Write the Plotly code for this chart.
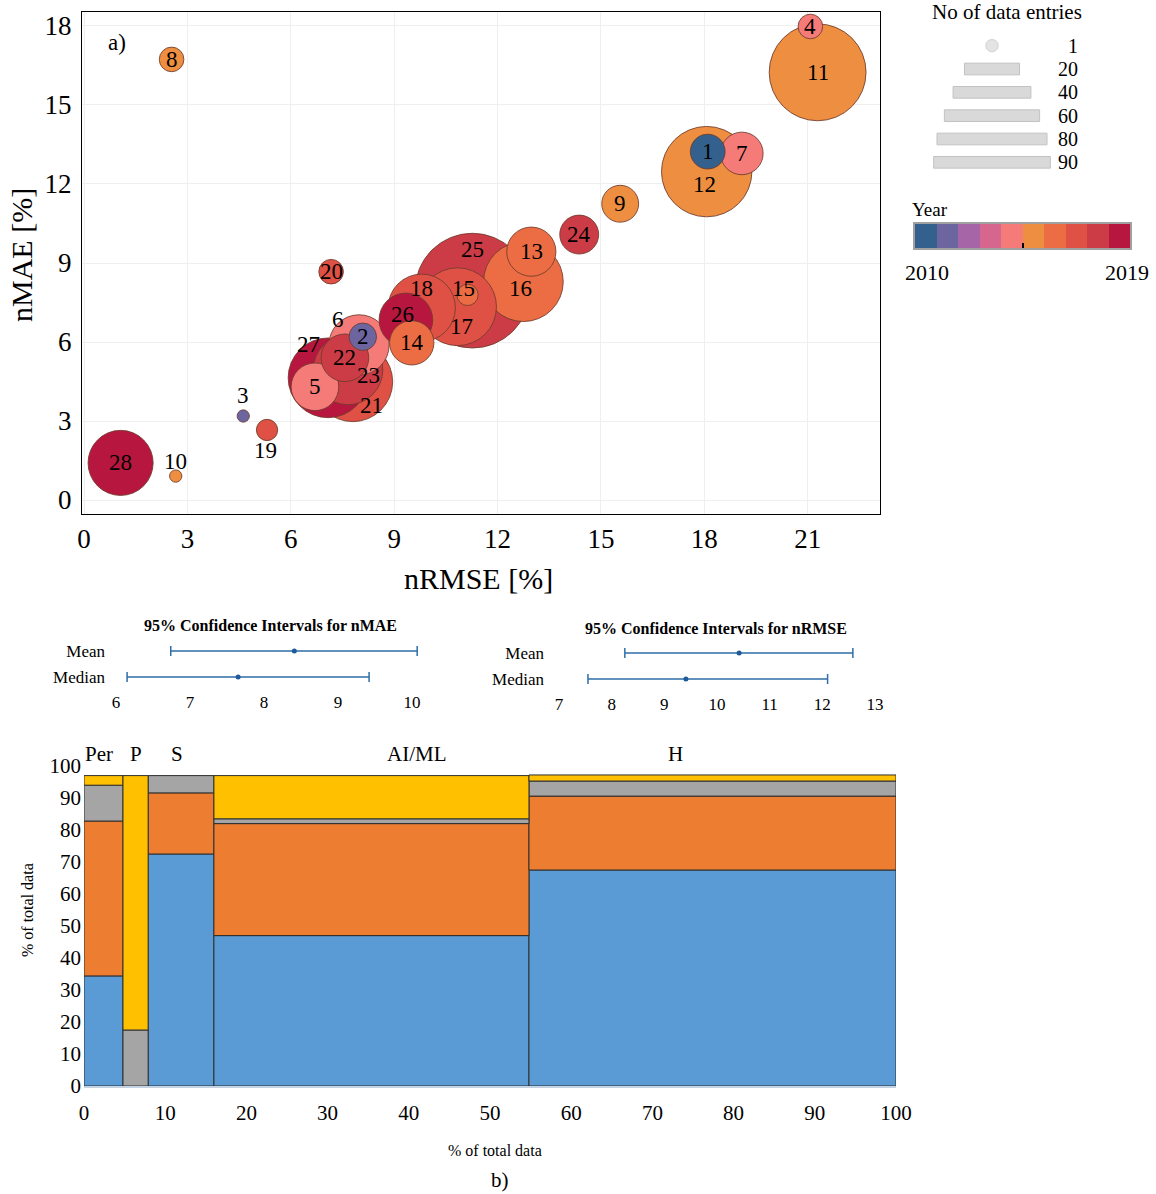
import numpy as np
import plotly.graph_objects as go

FONT = "Liberation Serif, Times New Roman, serif"
W, H = 1156, 1194

# ---------------- panel a) data ----------------
study = list(range(1, 29))
nrmse = [18.10, 8.09, 4.62, 21.08, 6.70, 7.98, 19.09, 2.54, 15.56, 2.66, 21.29, 18.07, 12.98, 9.51,
         11.13, 12.75, 10.84, 9.80, 5.31, 7.17, 7.80, 7.57, 7.66, 14.37, 11.27, 9.34, 7.08, 1.06]
nmae = [13.23, 6.20, 3.19, 17.98, 4.30, 5.89, 13.16, 16.73, 11.25, 0.91, 16.24, 12.47, 9.43, 5.97,
        7.79, 8.29, 7.34, 7.30, 2.66, 8.67, 4.49, 5.40, 4.94, 10.08, 7.95, 6.84, 4.64, 1.41]
entries = [8, 5, 1, 4, 15, 24, 12, 4, 9, 1, 62, 54, 16, 13, 3, 42, 40, 30, 3, 4, 42, 15, 32, 10,
           87, 19, 42, 28]
year = [2010, 2011, 2011, 2014, 2014, 2014, 2014, 2015, 2015, 2015, 2015, 2015, 2016, 2016, 2016,
        2016, 2017, 2017, 2017, 2017, 2017, 2018, 2018, 2018, 2018, 2019, 2019, 2019]

years = list(range(2010, 2020))
legend_entries = [1, 20, 40, 60, 80, 90]

# ---------------- confidence intervals ----------------
ci_rows = ["Median", "Mean"]
ci_nmae_point = [7.65, 8.41]
ci_nmae_low = [6.15, 6.74]
ci_nmae_high = [9.42, 10.07]
ci_nrmse_point = [9.41, 10.42]
ci_nrmse_low = [7.55, 8.25]
ci_nrmse_high = [12.10, 12.58]

# ---------------- panel b) mosaic ----------------
mosaic_cats = ["Per", "P", "S", "AI/ML", "H"]
mosaic_width = [4.8, 3.1, 8.1, 38.8, 45.2]
seg_blue = [34.4, None, 72.5, 47.0, 67.5]
seg_orange = [48.4, None, 19.1, 35.0, 23.1]
seg_gray = [11.2, 17.5, 5.4, 1.5, 4.7]
seg_yellow = [3.0, 79.5, None, 13.5, 1.9]

# ---------------- styles ----------------
year_colors = ["#33608c", "#6c65a0", "#a565a6", "#d7668f", "#f47b78",
               "#ee8e41", "#ec6c43", "#df5144", "#cb3c46", "#b7173f"]
PX_PER_SQRT = 12.3          # bubble diameter in px per sqrt(entries)
SIZEREF = 2.0 / PX_PER_SQRT ** 2   # plotly area mode: diameter = sqrt(2*size/sizeref)
# label offsets (px) relative to bubble centre, study order
label_dx = [0, 0, 0, 0, 0, -21, 0, 0, 0, 0, 0, -2, 0, 0, -4, -3, 4, 0, -2, 0, 19, 0, 20, 0, 0, -3, -20, 0]
label_dy = [0, 0, -21, 0, 0, -25, 0, 0, 0, -15, 0, 13, 0, 0, -6, 7, 20, -19, 21, 0, 24, 0, 6, 0, -41, -5, -33, 0]
seg_colors = {"blue": "#5b9bd5", "orange": "#ed7d31", "gray": "#a5a5a5", "yellow": "#ffc000"}
cat_label_dx = [-4, 0, -4, 46, -37]


def pxx(x):
    return x / W


def pyy(y):
    return 1 - y / H


def note(x, y, text, size, xref="paper", yref="paper", **kw):
    d = dict(x=x, y=y, xref=xref, yref=yref, text=text, showarrow=False,
             xanchor="center", yanchor="middle", font=dict(family=FONT, size=size, color="black"))
    d.update(kw)
    return d


fig = go.Figure()

# ---- bubbles (largest first) ----
order = sorted(range(len(study)), key=lambda i: -entries[i])
cmap = {y: c for y, c in zip(years, year_colors)}
fig.add_trace(go.Scatter(
    x=[nrmse[i] for i in order], y=[nmae[i] for i in order], mode="markers",
    marker=dict(size=[entries[i] for i in order], sizemode="area", sizeref=SIZEREF,
                color=[cmap[year[i]] for i in order], opacity=1,
                line=dict(color="rgba(110,60,45,0.85)", width=1)),
    xaxis="x", yaxis="y", hoverinfo="skip"))

annotations = []
for i in range(len(study)):
    annotations.append(note(nrmse[i], nmae[i], str(study[i]), 23, xref="x", yref="y",
                            xshift=label_dx[i], yshift=-label_dy[i]))

# ---- size legend ----
leg_w = [PX_PER_SQRT * np.sqrt(n) for n in legend_entries]
fig.add_trace(go.Scatter(x=[0], y=[0], mode="markers",
                         marker=dict(size=[legend_entries[0]], sizemode="area", sizeref=SIZEREF,
                                     color="#d9d9d9", line=dict(color="#bdbdbd", width=1)),
                         xaxis="x2", yaxis="y2", hoverinfo="skip"))
fig.add_trace(go.Bar(x=leg_w[1:], y=list(range(1, len(legend_entries))),
                     base=[-w / 2 for w in leg_w[1:]], orientation="h", width=0.5,
                     marker=dict(color="#d9d9d9", line=dict(color="#c2c2c2", width=1)),
                     xaxis="x2", yaxis="y2", hoverinfo="skip"))
for k, n in enumerate(legend_entries):
    annotations.append(note(pxx(1080), k, str(n), 20, yref="y2", xanchor="right"))
annotations.append(note(pxx(1007), pyy(12), "No of data entries", 21))

# ---- year colour bar ----
cscale = [[k / (len(years) - 1), c] for k, c in enumerate(year_colors)]
fig.add_trace(go.Heatmap(x=years, y=[0], z=[years], colorscale=cscale, zmin=years[0], zmax=years[-1],
                         showscale=False, xaxis="x3", yaxis="y3", hoverinfo="skip"))
annotations.append(note(pxx(910), pyy(210), "Year", 19, xanchor="left"))
annotations.append(note(pxx(927), pyy(272), str(years[0]), 22))
annotations.append(note(pxx(1127), pyy(272), str(years[-1]), 22))

# ---- CI plots ----
CI_COLOR = "#2f6ea8"
for pt, lo, hi, xa, ya in [(ci_nmae_point, ci_nmae_low, ci_nmae_high, "x4", "y4"),
                           (ci_nrmse_point, ci_nrmse_low, ci_nrmse_high, "x5", "y5")]:
    fig.add_trace(go.Scatter(
        x=pt, y=[0, 1], mode="markers", marker=dict(size=5, color="#1f5b99"),
        error_x=dict(type="data", symmetric=False,
                     array=[h - p for h, p in zip(hi, pt)],
                     arrayminus=[p - l for p, l in zip(pt, lo)],
                     color=CI_COLOR, thickness=1.5, width=5),
        xaxis=xa, yaxis=ya, hoverinfo="skip"))
annotations.append(note(pxx(270), pyy(625), "<b>95% Confidence Intervals for nMAE</b>", 16))
annotations.append(note(pxx(716), pyy(628), "<b>95% Confidence Intervals for nRMSE</b>", 16))

# ---- mosaic ----
widths = np.array(mosaic_width)
centers = np.cumsum(widths) - widths / 2
base = np.zeros(len(mosaic_cats))
for key, seg in [("blue", seg_blue), ("orange", seg_orange), ("gray", seg_gray), ("yellow", seg_yellow)]:
    vals = np.array([v if v is not None else 0.0 for v in seg])
    mask = [v is not None for v in seg]
    fig.add_trace(go.Bar(
        x=[c for c, m in zip(centers, mask) if m], y=[v for v, m in zip(vals, mask) if m],
        base=[b for b, m in zip(base, mask) if m], width=[w for w, m in zip(widths, mask) if m],
        marker=dict(color=seg_colors[key], line=dict(color="#2e2e2e", width=1)),
        xaxis="x6", yaxis="y6", hoverinfo="skip"))
    base = base + vals
for c, lab, dx in zip(centers, mosaic_cats, cat_label_dx):
    annotations.append(note(c, pyy(754), lab, 21, xref="x6", xshift=dx))

# ---- titles / labels ----
annotations += [
    note(pxx(117), pyy(42), "a)", 23),
    note(pxx(22), pyy(255), "nMAE [%]", 30, textangle=-90),
    note(pxx(478), pyy(578), "nRMSE [%]", 30),
    note(pxx(27), pyy(910), "% of total data", 16, textangle=-90),
    note(pxx(495), pyy(1150), "% of total data", 16),
    note(pxx(500), pyy(1180), "b)", 21),
]

tf = lambda s: dict(family=FONT, size=s, color="black")
hidden = dict(visible=False, showgrid=False, zeroline=False)

fig.update_layout(
    width=W, height=H, margin=dict(l=0, r=0, t=0, b=0, autoexpand=False),
    paper_bgcolor="white", plot_bgcolor="white", showlegend=False, barmode="overlay",
    annotations=annotations,
    xaxis=dict(domain=[pxx(82), pxx(880)], range=[-0.06, 23.1],
               tickvals=list(range(0, 22, 3)), showgrid=True, gridcolor="#efefef", zeroline=False,
               showline=True, mirror=True, linecolor="black", linewidth=1.3, ticks="",
               tickfont=tf(27), ticklabelstandoff=0, anchor="y"),
    yaxis=dict(domain=[pyy(514), pyy(12)], range=[-0.53, 18.53], tickvals=list(range(0, 19, 3)),
               showgrid=True, gridcolor="#efefef", zeroline=False, showline=True, mirror=True,
               linecolor="black", linewidth=1.3, ticks="", tickfont=tf(27), ticklabelstandoff=4,
               anchor="x"),
    xaxis2=dict(domain=[pxx(922), pxx(1062)], range=[-70, 70], anchor="y2", **hidden),
    yaxis2=dict(domain=[pyy(174), pyy(34)], range=[5.5, -0.5], anchor="x2", **hidden),
    xaxis3=dict(domain=[pxx(915), pxx(1130)], range=[years[0] - 0.5, years[-1] + 0.5], anchor="y3",
                showgrid=False, zeroline=False, showline=True, mirror=True, linecolor="#a0a0a0",
                linewidth=2, tickvals=[(years[0] + years[-1]) / 2], ticks="inside", ticklen=5,
                tickcolor="black", tickwidth=1.5, showticklabels=False),
    yaxis3=dict(domain=[pyy(248), pyy(224)], range=[-0.5, 0.5], anchor="x3", showgrid=False,
                zeroline=False, showline=True, mirror=True, linecolor="#a0a0a0", linewidth=2,
                showticklabels=False, ticks=""),
    xaxis4=dict(domain=[pxx(106), pxx(420)], range=[5.865, 10.108], anchor="y4", tickvals=[6, 7, 8, 9, 10],
                showgrid=False, zeroline=False, showline=False, ticks="", tickfont=tf(17),
                ticklabelstandoff=0),
    yaxis4=dict(domain=[pyy(690), pyy(638)], range=[-0.5, 1.5], anchor="x4", tickvals=[0, 1],
                ticktext=ci_rows, showgrid=False, zeroline=False, showline=False, ticks="",
                tickfont=tf(17)),
    xaxis5=dict(domain=[pxx(545), pxx(885)], range=[6.734, 13.19], anchor="y5",
                tickvals=list(range(7, 14)), showgrid=False, zeroline=False, showline=False, ticks="",
                tickfont=tf(17), ticklabelstandoff=0),
    yaxis5=dict(domain=[pyy(692), pyy(640)], range=[-0.5, 1.5], anchor="x5", tickvals=[0, 1],
                ticktext=ci_rows, showgrid=False, zeroline=False, showline=False, ticks="",
                tickfont=tf(17)),
    xaxis6=dict(domain=[pxx(84), pxx(896)], range=[0, 100], anchor="y6", tickvals=list(range(0, 101, 10)),
                showgrid=False, zeroline=False, showline=True, linecolor="#c3d3e3", linewidth=2,
                ticks="", tickfont=tf(21), ticklabelstandoff=7),
    yaxis6=dict(domain=[pyy(1086), pyy(766)], range=[0, 100], anchor="x6", tickvals=list(range(0, 101, 10)),
                showgrid=False, zeroline=False, showline=False, ticks="", tickfont=tf(21),
                ticklabelstandoff=2),
)

fig.write_html("out.html", config={"displayModeBar": False},
               post_script="document.body.style.margin='0px';")
